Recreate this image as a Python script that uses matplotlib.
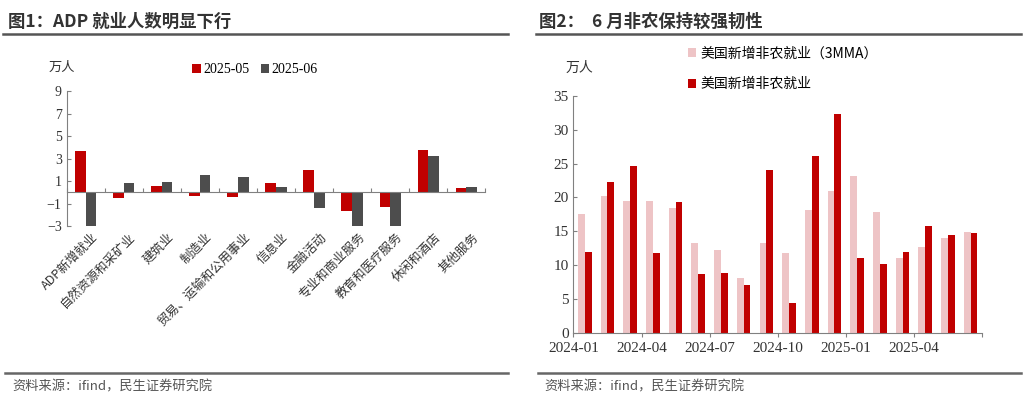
import matplotlib
matplotlib.use("Agg")
import matplotlib.pyplot as plt
import numpy as np
from matplotlib.lines import Line2D

CJK = "Noto Sans CJK SC"
SERIF = "Liberation Serif"

sectors = ["ADP新增就业", "自然资源和采矿业", "建筑业", "制造业", "贸易、运输和公用事业",
           "信息业", "金融活动", "专业和商业服务", "教育和医疗服务", "休闲和酒店", "其他服务"]
may = [3.7, -0.5, 0.6, -0.3, -0.4, 0.8, 2.0, -1.7, -1.3, 3.8, 0.4]
jun = [-3.3, 0.8, 0.9, 1.5, 1.4, 0.5, -1.4, -3.3, -3.3, 3.2, 0.5]

months = ["2024-01", "2024-02", "2024-03", "2024-04", "2024-05", "2024-06", "2024-07", "2024-08",
          "2024-09", "2024-10", "2024-11", "2024-12", "2025-01", "2025-02", "2025-03", "2025-04",
          "2025-05", "2025-06"]
mma3 = [17.6, 20.2, 19.5, 19.5, 18.5, 13.2, 12.2, 8.1, 13.3, 11.8, 18.1, 20.9, 23.1, 17.8, 11.0, 12.7, 14.0, 14.9]
nfp = [11.9, 22.2, 24.6, 11.8, 19.3, 8.7, 8.8, 7.1, 24.0, 4.4, 26.1, 32.3, 11.1, 10.2, 12.0, 15.8, 14.4, 14.7]

RED = "#C00000"
GREY = "#4D4D4D"
PINK = "#EEC4C6"
AX = "#808080"

fig = plt.figure(figsize=(10.24, 4.11), dpi=100)

# titles and rules
fig.text(0.008, 0.948, "图1：ADP 就业人数明显下行", fontfamily=CJK, fontsize=12.5, fontweight="bold", color="#333333", va="center")
fig.text(0.526, 0.948, "图2：  6 月非农保持较强韧性", fontfamily=CJK, fontsize=12.5, fontweight="bold", color="#333333", va="center")
for x0, x1 in [(0.003, 0.496), (0.523, 0.997)]:
    fig.add_artist(Line2D([x0, x1], [0.917, 0.917], color="#555555", lw=1.8))
    fig.add_artist(Line2D([x0 + 0.002, x1], [0.092, 0.092], color="#666666", lw=1.8))
fig.text(0.012, 0.058, "资料来源：ifind，民生证券研究院", fontfamily=CJK, fontsize=9.5, color="#555555", va="center")
fig.text(0.532, 0.058, "资料来源：ifind，民生证券研究院", fontfamily=CJK, fontsize=9.5, color="#555555", va="center")

# left chart
ax1 = fig.add_axes([0.065, 0.450, 0.409, 0.328])
x = np.arange(len(sectors))
w = 0.28
ax1.bar(x - w / 2, may, w, color=RED, label="2025-05")
ax1.bar(x + w / 2, jun, w, color=GREY, label="2025-06")
ax1.set_ylim(-3, 9)
ax1.set_yticks([-3, -1, 1, 3, 5, 7, 9])
ax1.set_xlim(-0.5, len(sectors) - 0.5)
ax1.spines["top"].set_visible(False)
ax1.spines["right"].set_visible(False)
ax1.spines["bottom"].set_position(("data", 0))
ax1.spines["left"].set_color(AX)
ax1.spines["bottom"].set_color(AX)
ax1.set_xticks(np.arange(len(sectors) + 1) - 0.5, minor=False)
ax1.set_xticklabels([])
ax1.tick_params(axis="x", direction="in", length=3, color=AX)
ax1.tick_params(axis="y", direction="in", length=3, color=AX, labelsize=10, labelcolor="#333333")
for lab in ax1.get_yticklabels():
    lab.set_fontfamily(SERIF)
for i, s in enumerate(sectors):
    ax1.text(i + 0.15, -3.4, s, rotation=45, ha="right", va="top", fontfamily=CJK, fontsize=9,
             color="#333333", rotation_mode="anchor")
fig.text(0.047, 0.835, "万人", fontfamily=CJK, fontsize=9.5, color="#333333", va="center")
ax1.legend(loc="center", bbox_to_anchor=(0.45, 1.16), ncol=2, frameon=False, handlelength=0.6,
           handleheight=0.6, handletextpad=0.2, columnspacing=0.8, prop={"family": SERIF, "size": 10})

# right chart
ax2 = fig.add_axes([0.560, 0.190, 0.399, 0.577])
xm = np.arange(len(months)) + 0.5
bw = 0.3
ax2.bar(xm - bw / 2, mma3, bw, color=PINK, label="美国新增非农就业（3MMA）")
ax2.bar(xm + bw / 2, nfp, bw, color=RED, label="美国新增非农就业")
ax2.set_xlim(0, len(months))
ax2.set_ylim(0, 35)
ax2.set_yticks(range(0, 36, 5))
ax2.spines["top"].set_visible(False)
ax2.spines["right"].set_visible(False)
ax2.spines["left"].set_color(AX)
ax2.spines["bottom"].set_color(AX)
ticks = list(range(0, len(months) + 1, 3))
ax2.set_xticks(ticks)
ax2.set_xticklabels([months[t] if t < len(months) else "" for t in ticks])
ax2.tick_params(axis="both", direction="in", length=3, color=AX, labelsize=11, labelcolor="#333333")
ax2.tick_params(axis="x", direction="out")
for lab in ax2.get_xticklabels() + ax2.get_yticklabels():
    lab.set_fontfamily(SERIF)
fig.text(0.552, 0.835, "万人", fontfamily=CJK, fontsize=10, color="#333333", va="center")
h, l = ax2.get_legend_handles_labels()
ax2.legend(h, l, loc="upper left", bbox_to_anchor=(0.25, 1.26), frameon=False, handlelength=0.6,
           handleheight=0.6, handletextpad=0.3, labelspacing=1.2, prop={"family": CJK, "size": 10})

fig.savefig("out.png", dpi=100)
